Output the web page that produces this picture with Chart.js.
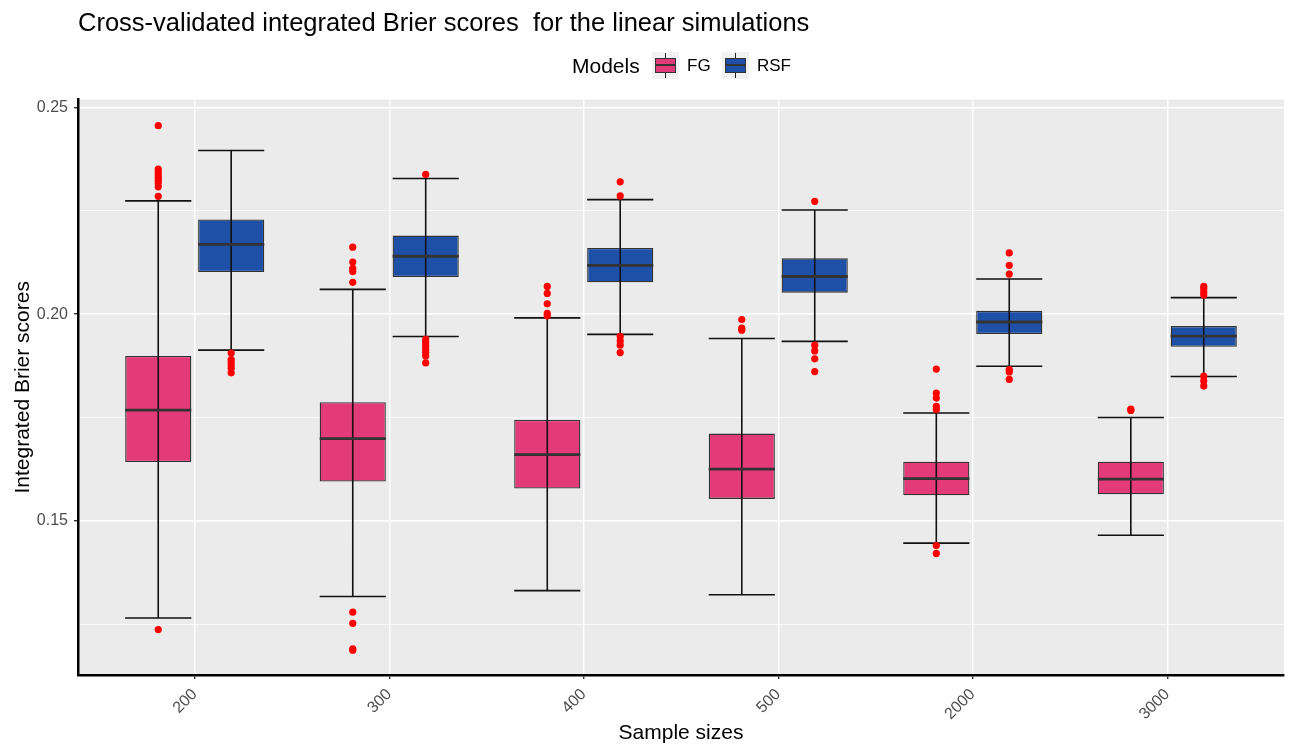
<!DOCTYPE html>
<html>
<head>
<meta charset="utf-8">
<script src="https://cdn.jsdelivr.net/npm/chart.js@4.4.1/dist/chart.umd.min.js"></script>
<style>
  body { margin: 0; background: #fff; font-family: 'Liberation Sans', Arial, sans-serif; }
  #wrap { position: relative; width: 1290px; height: 744px; }
  #legend span { position: absolute; line-height: 1; color: #000; }
  .ltitle { font-size: 21px; left: 572px; top: 55px; }
  .lab { font-size: 17px; top: 57px; }
  .key { width: 27px; height: 27px; top: 52px; background: #F2F2F2; }
  .key i { position: absolute; left: 13px; top: 1px; width: 1px; height: 25px; background: #222; }
  .key b { position: absolute; left: 3px; top: 6px; width: 19px; height: 13px; border: 1px solid #333; }
  .key em { position: absolute; left: 3px; top: 12px; width: 21px; height: 2px; background: #333; }
</style>
</head>
<body>
<div id="wrap">
  <canvas id="boxChart"></canvas>
  <div id="legend">
    <span class="ltitle">Models</span>
    <span class="key" style="left:652px"><i></i><b style="background:#E33A78"></b><em></em></span>
    <span class="lab" style="left:687px">FG</span>
    <span class="key" style="left:722px"><i></i><b style="background:#1E50A8"></b><em></em></span>
    <span class="lab" style="left:757px">RSF</span>
  </div>
</div>
<script>
// Data
const SIZES = ['200', '300', '400', '500', '2000', '3000'];

const FG_LOW  = [0.1265, 0.1317, 0.1331, 0.1321, 0.1446, 0.1465];
const FG_Q1   = [0.1642, 0.1595, 0.1578, 0.1553, 0.1562, 0.1564];
const FG_MED  = [0.1768, 0.1699, 0.1660, 0.1625, 0.1602, 0.1601];
const FG_Q3   = [0.1899, 0.1787, 0.1744, 0.1711, 0.1643, 0.1643];
const FG_HIGH = [0.2274, 0.2060, 0.1991, 0.1941, 0.1761, 0.1750];
const FG_OUT  = [
    [0.2456, 0.2351, 0.2345, 0.2338, 0.2331, 0.2324, 0.2317, 0.2308, 0.2285, 0.1237],
    [0.2162, 0.2126, 0.2111, 0.2103, 0.2077, 0.1279, 0.1252, 0.1190, 0.1187],
    [0.2067, 0.2050, 0.2025, 0.2002, 0.1996],
    [0.1987, 0.1966, 0.1961],
    [0.1867, 0.1809, 0.1797, 0.1777, 0.1769, 0.1440, 0.1421],
    [0.1770, 0.1767]
];

const RSF_LOW  = [0.1913, 0.1946, 0.1951, 0.1934, 0.1874, 0.1849];
const RSF_Q1   = [0.2102, 0.2090, 0.2077, 0.2052, 0.1952, 0.1921];
const RSF_MED  = [0.2169, 0.2140, 0.2118, 0.2091, 0.1981, 0.1947];
const RSF_Q3   = [0.2229, 0.2190, 0.2160, 0.2135, 0.2008, 0.1971];
const RSF_HIGH = [0.2396, 0.2328, 0.2277, 0.2252, 0.2085, 0.2040];
const RSF_OUT  = [
    [0.1906, 0.1890, 0.1884, 0.1877, 0.1869, 0.1858],
    [0.2338, 0.1939, 0.1931, 0.1923, 0.1915, 0.1907, 0.1899, 0.1882],
    [0.2320, 0.2286, 0.1946, 0.1935, 0.1925, 0.1907],
    [0.2273, 0.1925, 0.1911, 0.1892, 0.1861],
    [0.2148, 0.2118, 0.2097, 0.1866, 0.1860, 0.1842],
    [0.2067, 0.2061, 0.2053, 0.2046, 0.1850, 0.1838, 0.1826]
];

const Y_TICKS  = [0.125, 0.15, 0.175, 0.2, 0.225, 0.25];
const Y_LABELS = ['', '0.15', '', '0.20', '', '0.25'];

// Layout in x-axis units (categories sit at 1..6)
const DODGE = 0.1875;
const BOX_W = 0.34;

const PINK = '#E33A78';
const BLUE = '#1E50A8';

function boxData(q1, q3, shift) {
    return q1.map((v, i) => ({ x: i + 1 + shift, y: [v, q3[i]] }));
}

function whiskerData(lo, hi, shift) {
    const pts = [];
    lo.forEach((v, i) => {
        const x = i + 1 + shift;
        pts.push({ x: x, y: v }, { x: x, y: hi[i] }, { x: x, y: null });
        pts.push({ x: x - BOX_W / 2, y: hi[i] }, { x: x + BOX_W / 2, y: hi[i] }, { x: x, y: null });
        pts.push({ x: x - BOX_W / 2, y: v }, { x: x + BOX_W / 2, y: v }, { x: x, y: null });
    });
    return pts;
}

function medianData(med, shift) {
    const pts = [];
    med.forEach((v, i) => {
        const x = i + 1 + shift;
        pts.push({ x: x - BOX_W / 2, y: v }, { x: x + BOX_W / 2, y: v }, { x: x, y: null });
    });
    return pts;
}

function outlierData(out, shift) {
    const pts = [];
    out.forEach((list, i) => list.forEach(v => pts.push({ x: i + 1 + shift, y: v })));
    return pts;
}

// Grey panel behind the grid
const panelBg = {
    id: 'panelBg',
    beforeDraw(chart) {
        const { ctx, chartArea: a } = chart;
        ctx.save();
        ctx.fillStyle = '#EBEBEB';
        ctx.fillRect(a.left, a.top, a.right - a.left, a.bottom - a.top);
        ctx.restore();
    }
};

const boxStyle = {
    type: 'bar',
    borderColor: '#333333',
    borderWidth: 1.3,
    borderSkipped: false,
    grouped: false,
    categoryPercentage: 1,
    barPercentage: BOX_W / (2 * DODGE),
    order: 4
};
const whiskerStyle = { type: 'line', borderColor: '#111111', borderWidth: 1.6, pointRadius: 0, spanGaps: false, order: 3 };
const medianStyle = { type: 'line', borderColor: '#333333', borderWidth: 2.8, pointRadius: 0, spanGaps: false, order: 2 };
const outlierStyle = { type: 'scatter', pointRadius: 3.6, pointBackgroundColor: '#FF0000', pointBorderWidth: 0, order: 1 };

Chart.defaults.font.family = "'Liberation Sans', Arial, sans-serif";

const chart = new Chart(document.getElementById('boxChart'), {
    type: 'bar',
    data: {
        datasets: [
            { ...boxStyle, label: 'FG', data: boxData(FG_Q1, FG_Q3, -DODGE), backgroundColor: PINK },
            { ...boxStyle, label: 'RSF', data: boxData(RSF_Q1, RSF_Q3, DODGE), backgroundColor: BLUE },
            { ...whiskerStyle, data: whiskerData(FG_LOW, FG_HIGH, -DODGE) },
            { ...whiskerStyle, data: whiskerData(RSF_LOW, RSF_HIGH, DODGE) },
            { ...medianStyle, data: medianData(FG_MED, -DODGE) },
            { ...medianStyle, data: medianData(RSF_MED, DODGE) },
            { ...outlierStyle, data: outlierData(FG_OUT, -DODGE) },
            { ...outlierStyle, data: outlierData(RSF_OUT, DODGE) }
        ]
    },
    options: {
        responsive: true,
        maintainAspectRatio: false,
        animation: false,
        layout: { padding: { left: 0, right: 6, top: 0, bottom: 0 } },
        plugins: {
            legend: { display: false },
            tooltip: { enabled: false },
            title: {
                display: true,
                text: 'Cross-validated integrated Brier scores  for the linear simulations',
                align: 'start',
                fullSize: false,
                color: '#000',
                font: { size: 25.5, weight: 'normal' },
                padding: { top: 9, bottom: 60 }
            }
        },
        scales: {
            x: {
                type: 'linear',
                min: 0.4,
                max: 6.6,
                offset: false,
                afterBuildTicks: axis => { axis.ticks = SIZES.map((s, i) => ({ value: i + 1 })); },
                afterFit: axis => { axis.height = 69; },
                ticks: {
                    callback: v => SIZES[Math.round(v) - 1],
                    minRotation: 45,
                    maxRotation: 45,
                    padding: 6,
                    color: '#4D4D4D',
                    font: { size: 16 }
                },
                grid: { offset: false, color: '#FFFFFF', lineWidth: 1.4, tickColor: '#333333', tickLength: 4 },
                border: { display: true, color: '#000', width: 2.5 },
                title: { display: true, text: 'Sample sizes', color: '#000', font: { size: 21 }, padding: { top: 0, bottom: -2 } }
            },
            y: {
                min: 0.1127,
                max: 0.2519,
                afterBuildTicks: axis => { axis.ticks = Y_TICKS.map(v => ({ value: v })); },
                afterFit: axis => { axis.width = 78; },
                ticks: {
                    callback: (v, i) => Y_LABELS[i],
                    padding: 6,
                    color: '#4D4D4D',
                    font: { size: 16 }
                },
                grid: {
                    color: '#FFFFFF',
                    lineWidth: ctx => (Y_LABELS[ctx.index] ? 1.4 : 0.7),
                    tickColor: ctx => (Y_LABELS[ctx.index] ? '#333333' : 'rgba(0,0,0,0)'),
                    tickLength: 4
                },
                border: { display: true, color: '#000', width: 2.5 },
                title: { display: true, text: 'Integrated Brier scores', color: '#000', font: { size: 21 }, padding: { top: 11, bottom: 0 } }
            }
        }
    },
    plugins: [panelBg]
});
</script>
</body>
</html>
